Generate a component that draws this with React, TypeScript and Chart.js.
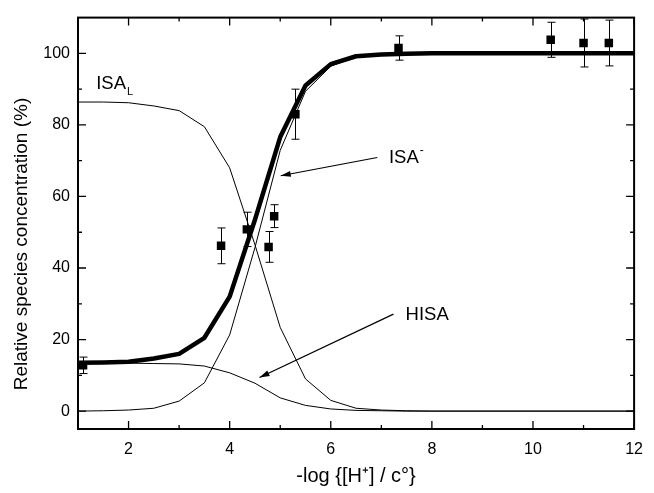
import React, { useEffect, useRef } from "react";
import { Chart, registerables } from "chart.js";

Chart.register(...registerables);

// ---- data ----
const curveX = [1, 1.5, 2, 2.5, 3, 3.5, 4, 4.5, 5, 5.5, 6, 6.5, 7, 7.5, 8, 10, 12];
const totalFit = [13.5, 13.6, 13.8, 14.7, 16.0, 20.5, 32.0, 53.5, 76.6, 91.0, 97.0, 99.2, 99.7, 99.9, 100, 100, 100];
const isaL = [86.4, 86.4, 86.2, 85.3, 84.0, 79.5, 68.0, 46.5, 23.4, 9.0, 3.0, 0.8, 0.3, 0.1, 0, 0, 0];
const hisa = [13.5, 13.5, 13.4, 13.3, 13.2, 12.6, 10.7, 7.8, 3.7, 1.6, 0.6, 0.2, 0.1, 0, 0, 0, 0];
const isaMinus = [0, 0.1, 0.3, 0.8, 2.8, 7.9, 21.3, 45.7, 72.9, 89.4, 96.4, 99.0, 99.6, 99.9, 100, 100, 100];

const expX = [1.1, 3.83, 4.34, 4.77, 4.88, 5.3, 7.34, 10.35, 11.0, 11.5];
const expY = [12.8, 46.2, 50.8, 45.9, 54.5, 83.0, 101.5, 103.8, 102.9, 102.9];
const expErr = [2.3, 5.0, 4.8, 4.3, 3.2, 7.0, 3.4, 4.9, 6.7, 6.4];

const xMajorTicks = [2, 4, 6, 8, 10, 12];
const xMinorTicks = [3, 5, 7, 9, 11];
const yMajorTicks = [0, 20, 40, 60, 80, 100];
const yMinorTicks = [10, 30, 50, 70, 90];

const xTitle = "-log {[H\u207A] / c\u00B0}";
const yTitle = "Relative species concentration (%)";

// annotation labels (data coordinates)
const labelIsaL = { text: "ISA", sub: "L", x: 1.36, y: 90.0 };
const labelIsaMinus = { text: "ISA", sup: "-", x: 7.15, y: 69.3 };
const labelHisa = { text: "HISA", x: 7.48, y: 25.5 };
const arrowIsaMinus = { from: [6.92, 70.9], to: [5.01, 65.8] };
const arrowHisa = { from: [7.24, 27.1], to: [4.59, 9.4] };

const FONT = "'Liberation Sans', Arial, Helvetica, sans-serif";

const toPts = (xs: number[], ys: number[]) => xs.map((x, i) => ({ x, y: ys[i] }));

const decorPlugin = {
  id: "decor",
  beforeDatasetsDraw(chart: any) {
    const { ctx, scales } = chart;
    const xs = scales.x;
    const ys = scales.y;
    ctx.save();
    ctx.strokeStyle = "#000";
    ctx.lineWidth = 1;
    for (let i = 0; i < expX.length; i++) {
      const px = Math.round(xs.getPixelForValue(expX[i])) + 0.5;
      const t = ys.getPixelForValue(expY[i] + expErr[i]);
      const b = ys.getPixelForValue(expY[i] - expErr[i]);
      ctx.beginPath();
      ctx.moveTo(px, t);
      ctx.lineTo(px, b);
      ctx.moveTo(px - 4, t);
      ctx.lineTo(px + 4, t);
      ctx.moveTo(px - 4, b);
      ctx.lineTo(px + 4, b);
      ctx.stroke();
    }
    ctx.restore();
  },
  afterDatasetsDraw(chart: any) {
    const { ctx, scales, chartArea } = chart;
    const xs = scales.x;
    const ys = scales.y;
    const { left, right, top, bottom } = chartArea;
    ctx.save();
    ctx.strokeStyle = "#000";
    ctx.fillStyle = "#000";
    // frame
    ctx.lineWidth = 2;
    ctx.strokeRect(left, top, right - left, bottom - top);
    // inward ticks
    ctx.lineWidth = 1.3;
    const xt = (v: number, len: number) => {
      const p = xs.getPixelForValue(v);
      ctx.beginPath();
      ctx.moveTo(p, bottom);
      ctx.lineTo(p, bottom - len);
      ctx.moveTo(p, top);
      ctx.lineTo(p, top + len);
      ctx.stroke();
    };
    const yt = (v: number, len: number) => {
      const p = ys.getPixelForValue(v);
      ctx.beginPath();
      ctx.moveTo(left, p);
      ctx.lineTo(left + len, p);
      ctx.moveTo(right, p);
      ctx.lineTo(right - len, p);
      ctx.stroke();
    };
    xMajorTicks.forEach((v) => xt(v, 8));
    xMinorTicks.forEach((v) => xt(v, 4));
    yMajorTicks.forEach((v) => yt(v, 8));
    yMinorTicks.forEach((v) => yt(v, 4));

    // arrows
    const arrow = (a: { from: number[]; to: number[] }) => {
      const x1 = xs.getPixelForValue(a.from[0]);
      const y1 = ys.getPixelForValue(a.from[1]);
      const x2 = xs.getPixelForValue(a.to[0]);
      const y2 = ys.getPixelForValue(a.to[1]);
      ctx.lineWidth = 1.2;
      ctx.beginPath();
      ctx.moveTo(x1, y1);
      ctx.lineTo(x2, y2);
      ctx.stroke();
      const ang = Math.atan2(y2 - y1, x2 - x1);
      const L = 10;
      const W = 3;
      ctx.beginPath();
      ctx.moveTo(x2, y2);
      ctx.lineTo(x2 - L * Math.cos(ang) + W * Math.sin(ang), y2 - L * Math.sin(ang) - W * Math.cos(ang));
      ctx.lineTo(x2 - L * Math.cos(ang) - W * Math.sin(ang), y2 - L * Math.sin(ang) + W * Math.cos(ang));
      ctx.closePath();
      ctx.fill();
    };
    arrow(arrowIsaMinus);
    arrow(arrowHisa);

    // labels
    ctx.textBaseline = "alphabetic";
    ctx.textAlign = "left";
    ctx.font = `18.5px ${FONT}`;
    let px = xs.getPixelForValue(labelIsaL.x);
    let py = ys.getPixelForValue(labelIsaL.y);
    ctx.fillText(labelIsaL.text, px, py);
    let w = ctx.measureText(labelIsaL.text).width;
    ctx.font = `11px ${FONT}`;
    ctx.fillText(labelIsaL.sub, px + w + 1, py + 6);

    ctx.font = `18.5px ${FONT}`;
    px = xs.getPixelForValue(labelIsaMinus.x);
    py = ys.getPixelForValue(labelIsaMinus.y);
    ctx.fillText(labelIsaMinus.text, px, py);
    w = ctx.measureText(labelIsaMinus.text).width;
    ctx.font = `12px ${FONT}`;
    ctx.fillText(labelIsaMinus.sup, px + w + 1, py - 9);

    ctx.font = `18.5px ${FONT}`;
    px = xs.getPixelForValue(labelHisa.x);
    py = ys.getPixelForValue(labelHisa.y);
    ctx.fillText(labelHisa.text, px, py);

    // y axis title (rotated)
    ctx.save();
    ctx.translate(27, 244);
    ctx.rotate(-Math.PI / 2);
    ctx.font = `19px ${FONT}`;
    ctx.textAlign = "center";
    ctx.textBaseline = "alphabetic";
    ctx.fillText(yTitle, 0, 0);
    ctx.restore();

    ctx.restore();
  },
};

export default function App() {
  const ref = useRef<HTMLCanvasElement | null>(null);
  useEffect(() => {
    if (!ref.current) return;
    const thin = { borderColor: "#000", borderWidth: 1, pointRadius: 0, showLine: true, fill: false, tension: 0 };
    const chart = new Chart(ref.current, {
      type: "scatter",
      data: {
        datasets: [
          { label: "ISA_L", data: toPts(curveX, isaL), ...thin },
          { label: "HISA", data: toPts(curveX, hisa), ...thin },
          { label: "ISA-", data: toPts(curveX, isaMinus), ...thin },
          {
            label: "Total",
            data: toPts(curveX, totalFit),
            borderColor: "#000",
            borderWidth: 4.5,
            pointRadius: 0,
            showLine: true,
            fill: false,
            tension: 0,
            borderJoinStyle: "round",
          },
          {
            label: "Experimental",
            data: toPts(expX, expY),
            pointStyle: "rect",
            pointRadius: 6,
            pointBackgroundColor: "#000",
            pointBorderColor: "#000",
            pointBorderWidth: 0,
            showLine: false,
          },
        ] as any,
      },
      options: {
        responsive: false,
        animation: false,
        events: [],
        layout: { padding: { left: 0, right: 10, top: 12, bottom: 0 } },
        plugins: { legend: { display: false }, tooltip: { enabled: false } },
        scales: {
          x: {
            type: "linear",
            min: 1,
            max: 12,
            grid: { display: false, drawTicks: false },
            border: { display: false },
            afterBuildTicks: (s: any) => {
              s.ticks = xMajorTicks.map((v) => ({ value: v }));
            },
            afterFit: (s: any) => {
              s.height = 64;
            },
            ticks: { color: "#000", font: { family: FONT, size: 16 }, padding: 11, maxRotation: 0, autoSkip: false },
            title: { display: true, text: xTitle, color: "#000", font: { family: FONT, size: 20 }, padding: { top: 0, bottom: 5 } },
          },
          y: {
            type: "linear",
            min: -5,
            max: 110,
            grid: { display: false, drawTicks: false },
            border: { display: false },
            afterBuildTicks: (s: any) => {
              s.ticks = yMajorTicks.map((v) => ({ value: v }));
            },
            afterFit: (s: any) => {
              s.width = 78;
            },
            ticks: { color: "#000", font: { family: FONT, size: 16 }, padding: 8, autoSkip: false },
            title: { display: false },
          },
        },
      },
      plugins: [decorPlugin],
    } as any);
    return () => chart.destroy();
  }, []);
  return (
    <div style={{ position: "fixed", left: 0, top: 0, width: 654, height: 493, background: "#fff" }}>
      <canvas ref={ref} width={654} height={493} style={{ display: "block" }} />
    </div>
  );
}
